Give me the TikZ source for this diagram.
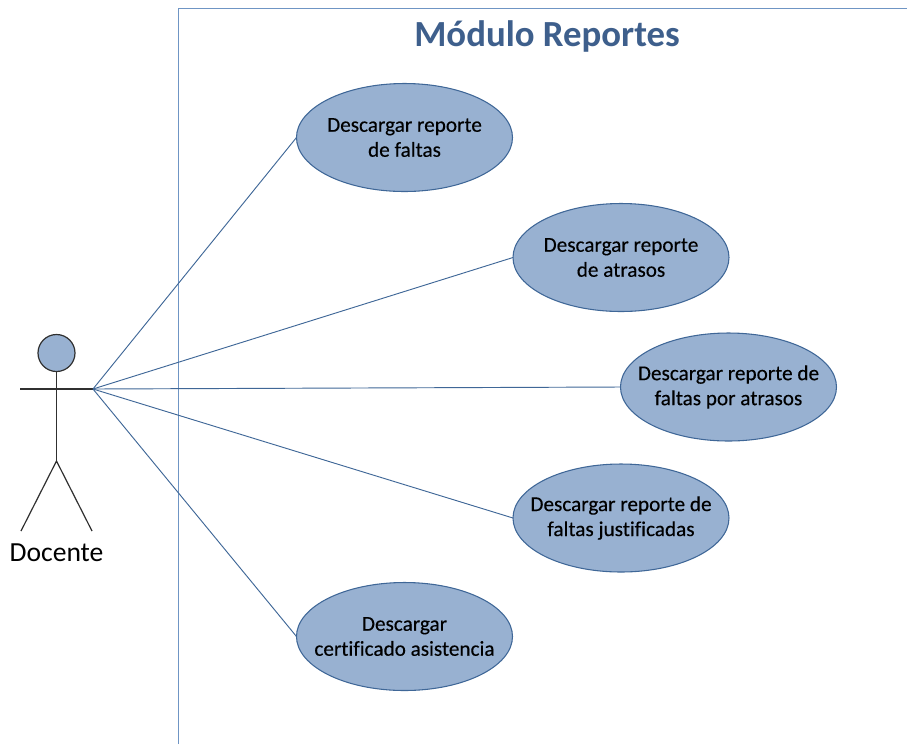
\documentclass[tikz,border=0pt]{standalone}
\usepackage{fontspec}
\setmainfont[RawFeature={-liga}]{Carlito}
\newfontfamily\labelfont[RawFeature={-liga},FakeBold=0.25]{Carlito}
\usetikzlibrary{shapes.geometric}
\definecolor{fillblue}{HTML}{98B1D1}
\definecolor{edgeblue}{HTML}{3F6797}
\definecolor{framecol}{HTML}{6F95C4}
\definecolor{titlecol}{HTML}{3E5F8C}
\definecolor{stick}{HTML}{303030}
\tikzset{
  usecase/.style={ellipse,draw=edgeblue,fill=fillblue,line width=0.8pt,minimum width=216*0.75pt,minimum height=108*0.75pt,inner xsep=-25pt,inner ysep=0pt,outer sep=0pt,align=center,font=\labelfont\fontsize{15.9}{18.75}\selectfont,text=black},
  link/.style={draw=edgeblue,line width=0.7pt},
  limb/.style={draw=stick,line width=0.9pt},
  frameline/.style={draw=framecol,line width=0.75pt}
}
\begin{document}
\begin{tikzpicture}[x=0.75pt,y=-0.75pt]
\useasboundingbox (0,0) rectangle (907,744);
\coordinate (ftop) at (178,744);
\coordinate (fcorner) at (178,8);
\coordinate (fright) at (907,8);
\draw[frameline] (ftop) -- (fcorner) -- (fright);
\node[font=\bfseries\fontsize{27.6}{32}\selectfont,text=titlecol] (title) at (547,36) {Módulo Reportes};
\node[usecase] (u1) at (404.5,137.5) {Descargar reporte\\de faltas};
\node[usecase] (u2) at (621,257.5) {Descargar reporte\\de atrasos};
\node[usecase] (u3) at (728.5,387) {Descargar reporte de\\faltas por atrasos};
\node[usecase] (u4) at (621,518) {Descargar reporte de\\faltas justificadas};
\node[usecase] (u5) at (404.5,636.5) {Descargar\\certificado asistencia};
\node[circle,draw=stick,fill=fillblue,line width=0.9pt,minimum size=37*0.75pt,inner sep=0pt] (head) at (56.5,353) {};
\coordinate (neck) at (56.5,389);
\coordinate (hip) at (56.5,461);
\coordinate (lhand) at (20,389);
\coordinate (rhand) at (93,389);
\coordinate (lfoot) at (21,531);
\coordinate (rfoot) at (92,531);
\draw[limb] (head) -- (hip);
\draw[limb] (lhand) -- (rhand);
\draw[limb] (lfoot) -- (hip) -- (rfoot);
\node[font=\fontsize{20.7}{24}\selectfont,text=black] (actor) at (56.5,553) {Docente};
\foreach \u in {u1,u2,u3,u4,u5} \draw[link] (rhand) -- (\u.west);
\end{tikzpicture}
\end{document}
